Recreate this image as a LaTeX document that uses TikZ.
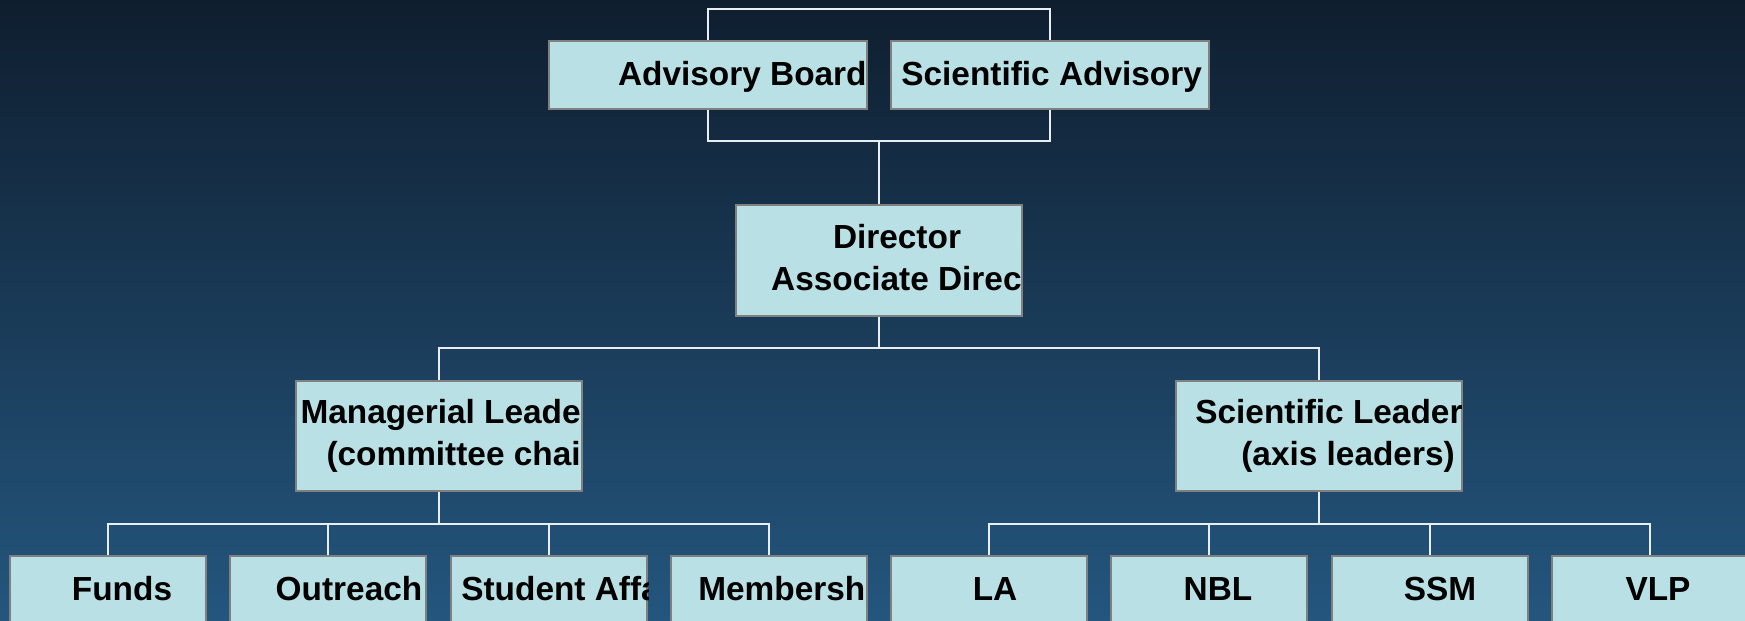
\documentclass[tikz,border=0pt]{standalone}
\usepackage{fontspec}
\setmainfont{Liberation Sans}
\usepackage{tikz}

\definecolor{bgtop}{RGB}{15,30,47}
\definecolor{bgbottom}{RGB}{36,86,126}
\definecolor{boxfill}{RGB}{185,224,228}
\definecolor{boxline}{RGB}{128,128,128}
\definecolor{linkcol}{RGB}{232,238,242}

\begin{document}
\begin{tikzpicture}[x=0.02cm, y=-0.02cm,
        box/.style={rectangle, draw=boxline, fill=boxfill, line width=1.3pt, inner sep=0pt},
        topbox/.style={box, minimum width=6.36cm, minimum height=1.36cm},
        midbox/.style={box, minimum width=5.72cm, minimum height=2.2cm},
        lowbox/.style={box, minimum width=3.92cm, minimum height=2.2cm},
        lbl/.style={font=\bfseries\fontsize{19}{24}\selectfont, text=black, inner sep=0pt},
        link/.style={draw=linkcol, line width=0.7pt}]

        \path[use as bounding box, clip] (0, 0) rectangle (1745, 621);
        \shade[top color=bgtop, bottom color=bgbottom] (0, 0) rectangle (1745, 621);

        \coordinate (topbus) at (879, 9);
        \coordinate (advbus) at (879, 141);
        \coordinate (dirbus) at (879, 348);
        \coordinate (mgrbus) at (439, 524);
        \coordinate (sldbus) at (1319, 524);

        % connectors first, boxes on top
        \draw[link] (708, 75) |- (topbus) -| (1050, 75);
        \draw[link] (708, 75) |- (advbus) -| (1050, 75);
        \draw[link] (advbus) -- (dirbus);
        \draw[link] (439, 436) |- (dirbus) -| (1319, 436);
        \draw[link] (439, 436) -- (mgrbus);
        \draw[link] (1319, 436) -- (sldbus);
        \draw[link] (108, 611) |- (mgrbus) -| (769, 611);
        \draw[link] (328, 611) -- (328, 524);
        \draw[link] (549, 611) -- (549, 524);
        \draw[link] (989, 611) |- (sldbus) -| (1650, 611);
        \draw[link] (1209, 611) -- (1209, 524);
        \draw[link] (1430, 611) -- (1430, 524);

        \node[topbox] (adv) at (708, 75) {};
        \node[topbox] (sciadv) at (1050, 75) {};

        \node[midbox, minimum height=2.22cm] (dir) at (879, 260.5) {};

        \node[midbox] (mgr) at (439, 436) {};
        \node[midbox] (sld) at (1319, 436) {};

        \node[lowbox] (funds) at (108, 611) {};
        \node[lowbox] (outr) at (328, 611) {};
        \node[lowbox] (stud) at (549, 611) {};
        \node[lowbox] (memb) at (769, 611) {};
        \node[lowbox] (la) at (989, 611) {};
        \node[lowbox] (nbl) at (1209, 611) {};
        \node[lowbox] (ssm) at (1430, 611) {};
        \node[lowbox] (vlp) at (1650, 611) {};

        \node[lbl, anchor=base east] (advtxt) at (867, 86) {Advisory Board};
        \node[lbl, anchor=base west] (sciadvtxt) at (901, 86) {Scientific Advisory};

        \node[lbl, anchor=base] (dirtxt) at (897, 249) {Director};
        \node[lbl, anchor=base east] (assoctxt) at (1022, 291) {Associate Direc};

        \node[lbl, anchor=base east] (mgrtxt) at (581, 424) {Managerial Leade};
        \node[lbl, anchor=base east] (cmtetxt) at (581, 466) {(committee chai};
        \node[lbl, anchor=base west] (sldtxt) at (1195, 424) {Scientific Leader};
        \node[lbl, anchor=base west] (axistxt) at (1241, 466) {(axis leaders)};

        \node[lbl, anchor=base] (fundstxt) at (122, 600) {Funds};
        \node[lbl, anchor=base] (outrtxt) at (349, 600) {Outreach};
        \begin{scope}
            \clip (stud.south west) rectangle (stud.north east);
            \node[lbl, anchor=base west] (studtxt) at (461, 600) {Student Affa};
        \end{scope}
        \node[lbl, anchor=base west] (membtxt) at (698, 600) {Membersh};
        \node[lbl, anchor=base] (latxt) at (995, 600) {LA};
        \node[lbl, anchor=base] (nbltxt) at (1218, 600) {NBL};
        \node[lbl, anchor=base] (ssmtxt) at (1440, 600) {SSM};
        \node[lbl, anchor=base] (vlptxt) at (1658, 600) {VLP};
    \end{tikzpicture}
\end{document}
